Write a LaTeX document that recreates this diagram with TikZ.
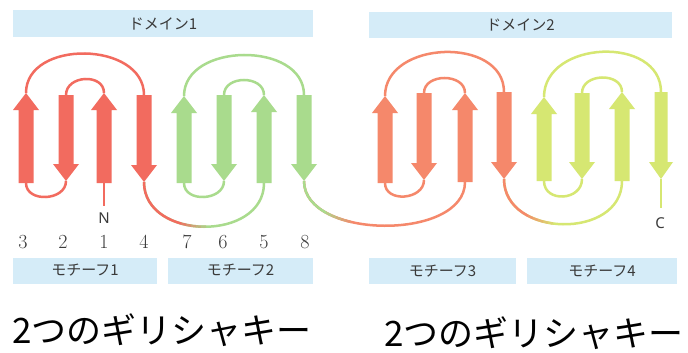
\documentclass[tikz,border=0pt]{standalone}
\usepackage{fontspec}
\newfontfamily\jpfont{Noto Sans CJK JP}
\newfontfamily\tagfont{Noto Sans}

\definecolor{strandred}{HTML}{F26B5F}
\definecolor{strandgreen}{HTML}{A9DB8D}
\definecolor{strandorange}{HTML}{F5886B}
\definecolor{strandyellow}{HTML}{D6E772}
\definecolor{barblue}{HTML}{D5ECF8}
\definecolor{labelgray}{HTML}{3A3A3A}

% strand pointing up: name, x, tip y, bottom y, colour, half body width
\newcommand{\strandUp}[6]{%
  \fill[#5] ({#2-#6},#4) -- ({#2-#6},{#3+17}) -- ({#2-#6-5.5},{#3+17}) -- (#2,#3)
    -- ({#2+#6+5.5},{#3+17}) -- ({#2+#6},{#3+17}) -- ({#2+#6},#4) -- cycle;
  \coordinate (#1t) at (#2,#3);
  \coordinate (#1b) at (#2,#4);}
% strand pointing down: name, x, top y, tip y, colour, half body width
\newcommand{\strandDown}[6]{%
  \fill[#5] ({#2-#6},#3) -- ({#2-#6},{#4-17}) -- ({#2-#6-5.5},{#4-17}) -- (#2,#4)
    -- ({#2+#6+5.5},{#4-17}) -- ({#2+#6},{#4-17}) -- ({#2+#6},#3) -- cycle;
  \coordinate (#1t) at (#2,#3);
  \coordinate (#1b) at (#2,#4);}
% hairpin over the top / under the bottom: from, to, depth, colour
\newcommand{\loopTop}[4]{\draw[loopline,#4] (#1) .. controls +(0,-#3) and +(0,-#3) .. (#2);}
\newcommand{\loopBottom}[4]{\draw[loopline,#4] (#1) .. controls +(0,#3) and +(0,#3) .. (#2);}
% crossover under the sheet, fading from one colour to the next around x = #6
\newcommand{\loopBlend}[6]{%
  \draw[loopline,#5] (#1) .. controls +(0,#3) and +(0,#3) .. (#2);
  \begin{scope}
    \clip (-10,-10) rectangle ({#6-12},400);
    \draw[loopline,#4] (#1) .. controls +(0,#3) and +(0,#3) .. (#2);
  \end{scope}
  \foreach \i/\m in {0/83,1/67,2/50,3/33,4/17}{%
    \begin{scope}
      \clip ({#6-12+5*\i},-10) rectangle ({#6-7+5*\i},400);
      \draw[loopline,#4!\m!#5] (#1) .. controls +(0,#3) and +(0,#3) .. (#2);
    \end{scope}}}

\begin{document}
\begin{tikzpicture}[x=1pt,y=-1pt,
  loopline/.style={line width=2.5pt},
  barbox/.style={fill=barblue, draw=none, inner sep=0pt, text=labelgray,
    font=\jpfont\fontsize{15}{15}\selectfont},
  numlabel/.style={inner sep=0pt, text=labelgray, font=\fontsize{20}{20}\selectfont},
  endlabel/.style={inner sep=0pt, text=labelgray, font=\tagfont\fontsize{15}{15}\selectfont},
  keylabel/.style={inner sep=0pt, anchor=base west, text=black,
    font=\jpfont\fontsize{35}{35}\selectfont}]
\useasboundingbox (0,0) rectangle (688,353);
\fill[white] (0,0) rectangle (688,353);

% domain and motif bars
\node[barbox, minimum width=300pt, minimum height=27pt] (dom1) at (163,23.5) {ドメイン1};
\node[barbox, minimum width=303pt, minimum height=26pt] (dom2) at (520.5,25) {ドメイン2};
\node[barbox, minimum width=144pt, minimum height=26pt] (mot1) at (85,270.5) {モチーフ1};
\node[barbox, minimum width=145pt, minimum height=26pt] (mot2) at (240.5,270.5) {モチーフ2};
\node[barbox, minimum width=147pt, minimum height=26pt] (mot3) at (442.5,271) {モチーフ3};
\node[barbox, minimum width=150pt, minimum height=26pt] (mot4) at (602,271) {モチーフ4};

% motif 1
\strandUp{s3}{26}{93}{183}{strandred}{7.5}
\strandDown{s2}{66}{95}{181}{strandred}{7.5}
\strandUp{s1}{104}{93}{183}{strandred}{7.5}
\strandDown{s4}{144}{95}{182}{strandred}{7.5}
% motif 2
\strandUp{s7}{184}{96}{183}{strandgreen}{7.5}
\strandDown{s6}{224}{95}{181}{strandgreen}{7.5}
\strandUp{s5}{264}{95}{183}{strandgreen}{7.5}
\strandDown{s8}{304}{95}{181}{strandgreen}{7.5}
% motif 3
\strandUp{s9}{385}{96}{183}{strandorange}{7.5}
\strandDown{s10}{424}{93}{180}{strandorange}{7.5}
\strandUp{s11}{465}{93}{182}{strandorange}{7.5}
\strandDown{s12}{504}{92}{179}{strandorange}{7.5}
% motif 4
\strandUp{s13}{544}{97}{181}{strandyellow}{7.5}
\strandDown{s14}{582}{93}{179}{strandyellow}{7.5}
\strandUp{s15}{622}{92}{181}{strandyellow}{7.5}
\strandDown{s16}{661}{92}{179}{strandyellow}{6.5}

% chain ends
\coordinate (nend) at (104,206);
\coordinate (cend) at (661,208);
\draw[loopline,strandred] (s1b) -- (nend);
\draw[loopline,strandyellow] (s16b) -- (cend);

% connections within motif 1
\loopTop{s1t}{s2t}{20}{strandred}
\loopBottom{s2b}{s3b}{20}{strandred}
\loopTop{s3t}{s4t}{54}{strandred}
\loopBlend{s4b}{s5b}{59}{strandred}{strandgreen}{193}
% motif 2
\loopTop{s5t}{s6t}{20}{strandgreen}
\loopBottom{s6b}{s7b}{20}{strandgreen}
\loopTop{s7t}{s8t}{54}{strandgreen}
\loopBlend{s8b}{s11b}{59}{strandgreen}{strandorange}{338}
% motif 3
\loopTop{s11t}{s10t}{20}{strandorange}
\loopBottom{s10b}{s9b}{20}{strandorange}
\loopTop{s9t}{s12t}{56}{strandorange}
\loopBlend{s12b}{s15b}{59}{strandorange}{strandyellow}{540}
% motif 4
\loopTop{s15t}{s14t}{20}{strandyellow}
\loopBottom{s14b}{s13b}{22}{strandyellow}
\loopTop{s13t}{s16t}{57}{strandyellow}

% strand numbers and termini
\node[endlabel] (nlab) at (104,218) {N};
\node[endlabel] (clab) at (660,223) {C};
\node[numlabel] (n3) at (23,242) {3};
\node[numlabel] (n2) at (63,242) {2};
\node[numlabel] (n1) at (104,242) {1};
\node[numlabel] (n4) at (144,242) {4};
\node[numlabel] (n7) at (187,242) {7};
\node[numlabel] (n6) at (223,242) {6};
\node[numlabel] (n5) at (264,242) {5};
\node[numlabel] (n8) at (305,242) {8};

% captions
\node[keylabel] (keyA) at (12,343) {2つのギリシャキー};
\node[keylabel] (keyB) at (384,346) {2つのギリシャキー};
\end{tikzpicture}
\end{document}
